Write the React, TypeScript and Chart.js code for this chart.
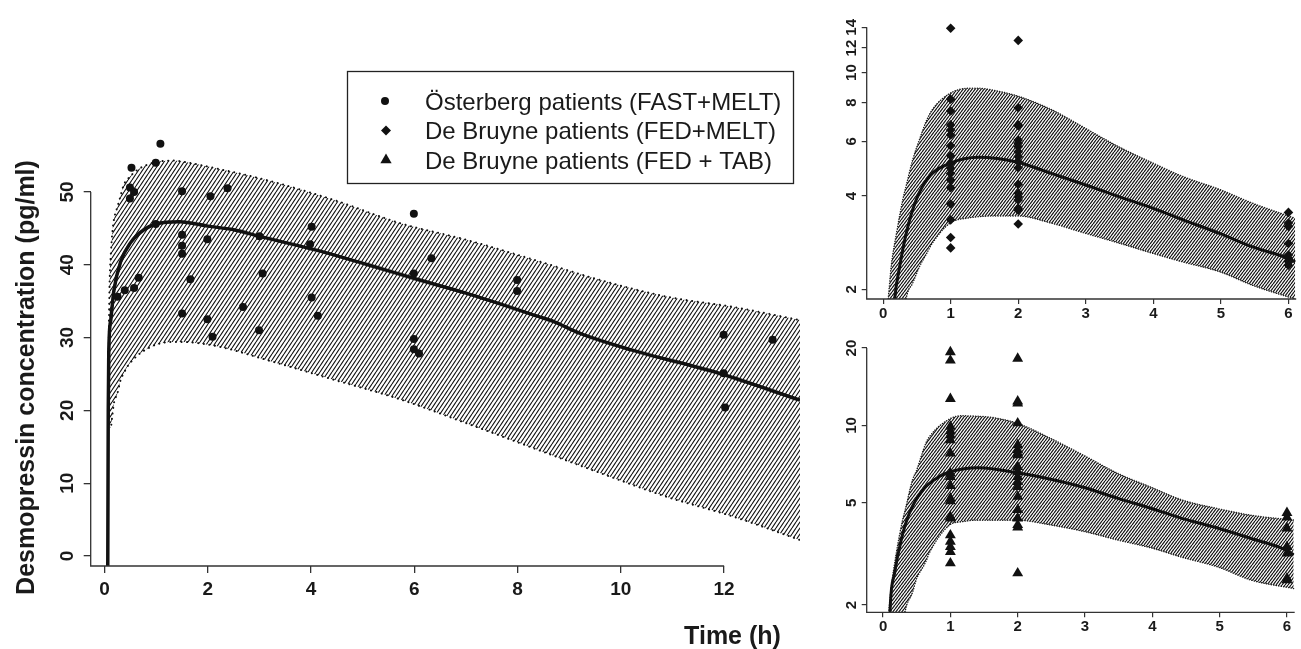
import React, { useEffect, useRef } from 'react';
import { Chart, registerables } from 'chart.js';

Chart.register(...registerables);

// ---------------- DATA ----------------
// Main panel (linear scale)
const mainXTicks = [0, 2, 4, 6, 8, 10, 12];
const mainYTicks = [0, 10, 20, 30, 40, 50];

const osterbergTime = [1.08, 0.99, 0.52, 0.49, 0.57, 0.49, 1.5, 2.05, 2.38, 0.99, 1.5, 1.5, 1.5, 1.99, 3.0, 4.01, 3.98, 5.99, 5.99, 0.66, 0.57, 0.39, 0.25, 1.66, 3.06, 1.5, 1.99, 2.09, 2.68, 2.99, 4.01, 4.13, 5.99, 5.99, 6.09, 6.33, 7.99, 7.99, 11.99, 12.94, 11.99, 12.02];
const osterbergConc = [56.6, 54.0, 53.3, 50.6, 50.0, 49.1, 50.1, 49.4, 50.5, 45.6, 44.1, 42.6, 41.5, 43.5, 43.9, 45.2, 42.8, 47.0, 38.8, 38.2, 36.8, 36.5, 35.6, 38.0, 38.8, 33.3, 32.5, 30.1, 34.2, 31.0, 35.5, 33.0, 29.8, 28.4, 27.8, 40.9, 37.9, 36.4, 30.4, 29.7, 25.1, 20.4];

const mainMedianTime = [0.06, 0.07, 0.08, 0.12, 0.18, 0.31, 0.5, 0.76, 1.0, 1.45, 2.0, 2.5, 3.0, 4.1, 5.1, 6.1, 7.0, 8.4, 8.7, 9.2, 10.2, 11.9, 13.47];
const mainMedianConc = [-3, 20, 28, 32.5, 36.5, 40.4, 43.0, 44.8, 45.6, 45.9, 45.3, 44.8, 43.9, 42.0, 40.0, 37.9, 36.1, 32.9, 32.2, 30.6, 28.3, 25.1, 21.4];

const mainBandTime = [0.065, 0.075, 0.085, 0.1, 0.12, 0.15, 0.18, 0.25, 0.31, 0.37, 0.44, 0.63, 0.89, 1.08, 1.34, 1.47, 2.18, 3.15, 4.44, 5.73, 7.02, 8.31, 9.6, 10.9, 12.18, 13.47];
const mainBandUpper = [17.7, 25, 33, 38.5, 41.5, 44.5, 46.2, 48.0, 49.5, 51.0, 51.7, 53.0, 53.9, 54.2, 54.3, 54.2, 53.2, 51.6, 48.9, 45.7, 43.4, 40.7, 37.9, 35.6, 34.2, 32.4];
const mainBandLower = [17.6, 17.6, 17.6, 17.6, 17.7, 19.4, 21.0, 22.4, 24.2, 25.1, 26.0, 27.5, 28.7, 29.2, 29.4, 29.4, 28.8, 26.9, 24.2, 21.5, 18.2, 14.8, 11.4, 8.1, 5.4, 2.2];

// Right panels (log scale)
const smallXTicks = [0, 1, 2, 3, 4, 5, 6];
const meltYTicks = [2, 4, 6, 8, 10, 12, 14];
const tabYTicks = [2, 5, 10, 20];

const meltT1 = [13.9, 8.2, 7.52, 6.78, 6.53, 6.29, 5.81, 5.39, 5.1, 4.91, 4.73, 4.5, 4.25, 3.77, 3.35, 2.94, 2.72];
const meltT2 = [12.7, 7.7, 6.78, 6.74, 6.06, 5.92, 5.77, 5.56, 5.36, 5.16, 4.93, 4.36, 4.08, 3.98, 3.88, 3.65, 3.6, 3.25];
const meltT6 = [3.54, 3.27, 3.19, 2.81, 2.58, 2.52, 2.46, 2.39];

const meltMedianTime = [0.15, 0.171, 0.245, 0.342, 0.489, 0.684, 0.991, 1.416, 1.99, 2.49, 3.0, 3.49, 4.0, 4.44, 4.98, 5.47, 5.99, 6.1];
const meltMedianConc = [1.6, 1.86, 2.37, 3.03, 3.88, 4.62, 5.1, 5.33, 5.14, 4.73, 4.34, 3.98, 3.65, 3.35, 3.03, 2.74, 2.52, 2.45];

const meltBandTime = [0.07, 0.12, 0.2, 0.29, 0.34, 0.44, 0.54, 0.64, 0.73, 0.99, 1.27, 1.42, 1.61, 1.99, 2.49, 3.0, 3.49, 4.0, 4.44, 4.98, 5.47, 6.1];
const meltBandUpper = [1.8, 2.37, 3.05, 3.88, 4.3, 5.25, 6.1, 6.98, 7.6, 8.57, 8.9, 8.9, 8.79, 8.4, 7.6, 6.6, 5.76, 5.1, 4.62, 4.2, 3.79, 3.39];
const meltBandLower = [0.9, 1.05, 1.25, 1.5, 1.86, 2.1, 2.37, 2.6, 2.82, 3.27, 3.4, 3.43, 3.45, 3.45, 3.27, 3.03, 2.82, 2.61, 2.45, 2.28, 2.06, 1.86];

const tabT1 = [19.3, 17.9, 12.7, 9.9, 9.5, 9.17, 8.77, 7.79, 6.51, 6.31, 5.82, 5.2, 5.08, 4.41, 4.35, 3.74, 3.53, 3.37, 3.22, 2.91];
const tabT2 = [18.2, 12.4, 12.2, 10.2, 8.39, 8.02, 7.79, 7.67, 6.9, 6.6, 6.31, 6.03, 5.77, 5.28, 4.69, 4.35, 4.1, 4.01, 2.66];
const tabT6 = [4.57, 4.39, 3.98, 3.37, 3.18, 2.54, 2.5];

const tabMedianTime = [0.1, 0.108, 0.171, 0.269, 0.39, 0.586, 0.83, 1.0, 1.416, 1.99, 2.49, 3.0, 3.49, 4.0, 4.44, 4.98, 5.47, 5.99, 6.1];
const tabMedianConc = [1.7, 2.0, 2.66, 3.58, 4.55, 5.59, 6.31, 6.6, 6.84, 6.54, 6.17, 5.72, 5.2, 4.74, 4.35, 3.98, 3.63, 3.27, 3.13];

const tabBandTime = [0.083, 0.122, 0.196, 0.29, 0.33, 0.44, 0.49, 0.635, 0.684, 0.99, 1.17, 1.42, 1.61, 1.99, 2.49, 3.0, 3.49, 4.0, 4.44, 4.98, 5.47, 6.1];
const tabBandUpper = [1.87, 2.35, 3.18, 4.28, 4.7, 6.17, 6.6, 8.52, 9.0, 10.6, 10.9, 10.85, 10.75, 10.2, 8.9, 7.6, 6.5, 5.72, 5.13, 4.74, 4.47, 4.28];
const tabBandLower = [1.0, 1.1, 1.3, 1.6, 1.9, 2.25, 2.5, 2.95, 3.18, 4.1, 4.22, 4.28, 4.28, 4.28, 4.1, 3.86, 3.58, 3.33, 3.07, 2.81, 2.5, 2.32];

const yTitle = 'Desmopressin concentration (pg/ml)';
const xTitle = 'Time (h)';
const legendLabels = ['Österberg patients (FAST+MELT)', 'De Bruyne patients (FED+MELT)', 'De Bruyne patients (FED + TAB)'];

// ---------------- STYLE ----------------
const FONT = '"Liberation Sans", Arial, Helvetica, sans-serif';
const INK = '#111111';
const TEXT = '#1a1a1a';
const AXIS = '#333333';

const pairs = (xs: number[], ys: number[]) => xs.map((x, i) => ({ x, y: ys[i] }));
const column = (t: number, ys: number[]) => ys.map((y) => ({ x: t, y }));

function makeHatch(canvas: HTMLCanvasElement, w: number, h: number, lw: number, color: string) {
  const tile = document.createElement('canvas');
  tile.width = w;
  tile.height = h;
  const g = tile.getContext('2d')!;
  g.strokeStyle = color;
  g.lineWidth = lw;
  g.beginPath();
  for (let k = -1; k <= 1; k++) {
    g.moveTo(k * w, h);
    g.lineTo((k + 1) * w, 0);
  }
  g.stroke();
  return canvas.getContext('2d')!.createPattern(tile, 'repeat')!;
}

function axisLinesPlugin(yTopValue: number, xEndValue: number | null) {
  return {
    id: 'axisLines',
    afterDraw(chart: any) {
      const { ctx, chartArea, scales } = chart;
      ctx.save();
      ctx.strokeStyle = AXIS;
      ctx.lineWidth = 1.3;
      ctx.beginPath();
      ctx.moveTo(chartArea.left, scales.y.getPixelForValue(yTopValue));
      ctx.lineTo(chartArea.left, chartArea.bottom);
      ctx.lineTo(xEndValue == null ? chartArea.right : scales.x.getPixelForValue(xEndValue), chartArea.bottom);
      ctx.stroke();
      ctx.restore();
    },
  };
}

const mainDecor = {
  id: 'mainDecor',
  afterDraw(chart: any) {
    const { ctx } = chart;
    ctx.save();
    ctx.fillStyle = TEXT;
    ctx.font = `bold 25px ${FONT}`;
    ctx.textAlign = 'center';
    ctx.textBaseline = 'middle';
    ctx.save();
    ctx.translate(27, 377.5);
    ctx.rotate(-Math.PI / 2);
    ctx.fillText(yTitle, 0, 0);
    ctx.restore();
    ctx.fillText(xTitle, 732.5, 637);

    // legend box
    ctx.strokeStyle = '#222';
    ctx.lineWidth = 1.3;
    ctx.fillStyle = '#ffffff';
    ctx.fillRect(347.5, 71.5, 446, 112);
    ctx.strokeRect(347.5, 71.5, 446, 112);
    const rows = [101, 130.5, 160];
    ctx.fillStyle = INK;
    // circle
    ctx.beginPath();
    ctx.arc(385, rows[0], 4, 0, Math.PI * 2);
    ctx.fill();
    // diamond
    ctx.beginPath();
    ctx.moveTo(386, rows[1] - 5);
    ctx.lineTo(391, rows[1]);
    ctx.lineTo(386, rows[1] + 5);
    ctx.lineTo(381, rows[1]);
    ctx.closePath();
    ctx.fill();
    // triangle
    const r = 6.5;
    ctx.beginPath();
    ctx.moveTo(386, rows[2] - r);
    ctx.lineTo(386 + r * 0.866, rows[2] + r / 2);
    ctx.lineTo(386 - r * 0.866, rows[2] + r / 2);
    ctx.closePath();
    ctx.fill();

    ctx.fillStyle = TEXT;
    ctx.font = `24px ${FONT}`;
    ctx.textAlign = 'left';
    ctx.textBaseline = 'alphabetic';
    legendLabels.forEach((t, i) => ctx.fillText(t, 425, rows[i] + 8.6));
    ctx.restore();
  },
};

function MainChart() {
  const ref = useRef<HTMLCanvasElement>(null);
  useEffect(() => {
    const canvas = ref.current!;
    const hatch = makeHatch(canvas, 4, 6, 1.1, INK);
    const chart = new Chart(canvas, {
      type: 'line',
      data: {
        datasets: [
          {
            label: legendLabels[0],
            data: pairs(osterbergTime, osterbergConc),
            showLine: false,
            pointStyle: 'circle',
            pointRadius: 4,
            pointBackgroundColor: INK,
            pointBorderWidth: 0,
          },
          {
            label: 'median',
            data: pairs(mainMedianTime, mainMedianConc),
            borderColor: INK,
            borderWidth: 3.5,
            pointRadius: 0,
            cubicInterpolationMode: 'monotone',
            fill: false,
          },
          {
            label: 'lower',
            data: pairs(mainBandTime, mainBandLower),
            borderColor: INK,
            borderWidth: 2,
            borderDash: [0.1, 5.5],
            borderCapStyle: 'round',
            pointRadius: 0,
            cubicInterpolationMode: 'monotone',
            fill: false,
          },
          {
            label: 'upper',
            data: pairs(mainBandTime, mainBandUpper),
            borderColor: INK,
            borderWidth: 2,
            borderDash: [0.1, 5.5],
            borderCapStyle: 'round',
            pointRadius: 0,
            cubicInterpolationMode: 'monotone',
            fill: '-1',
            backgroundColor: hatch,
          },
        ],
      } as any,
      options: {
        responsive: false,
        animation: false,
        events: [],
        layout: { padding: { left: 0, top: 130, right: 30, bottom: 0 } },
        plugins: { legend: { display: false }, tooltip: { enabled: false } },
        scales: {
          x: {
            type: 'linear',
            min: -0.27,
            max: 13.47,
            bounds: 'data',
            afterBuildTicks: (s: any) => { s.ticks = mainXTicks.map((v) => ({ value: v })); },
            afterFit: (s: any) => { s.height = 83; },
            ticks: { font: { family: FONT, size: 19, weight: 'bold' }, color: TEXT, padding: 5.6, autoSkip: false, maxRotation: 0 },
            grid: { drawOnChartArea: false, drawTicks: true, tickLength: 7, color: AXIS, lineWidth: 1.3 },
            border: { display: false },
          },
          y: {
            type: 'linear',
            min: -1.37,
            max: 58.5,
            bounds: 'data',
            afterBuildTicks: (s: any) => { s.ticks = mainYTicks.map((v) => ({ value: v })); },
            afterFit: (s: any) => { s.width = 90.7; },
            ticks: { font: { family: FONT, size: 19, weight: 'bold' }, color: TEXT, padding: 5.1, autoSkip: false, minRotation: 90, maxRotation: 90, crossAlign: 'center' },
            grid: { drawOnChartArea: false, drawTicks: true, tickLength: 7, color: AXIS, lineWidth: 1.3 },
            border: { display: false },
          },
        },
      } as any,
      plugins: [axisLinesPlugin(mainYTicks[mainYTicks.length - 1], mainXTicks[mainXTicks.length - 1]), mainDecor],
    });
    return () => chart.destroy();
  }, []);
  return <canvas ref={ref} width={830} height={649} style={{ position: 'absolute', left: 0, top: 0 }} />;
}

type SmallProps = {
  left: number;
  top: number;
  width: number;
  height: number;
  padTop: number;
  xAxisH: number;
  yMin: number;
  yMax: number;
  yTicks: number[];
  points: { x: number; y: number }[];
  pointStyle: string;
  pointRadius: number;
  medT: number[];
  medV: number[];
  bandT: number[];
  bandLo: number[];
  bandHi: number[];
};

function SmallChart(p: SmallProps) {
  const ref = useRef<HTMLCanvasElement>(null);
  useEffect(() => {
    const canvas = ref.current!;
    const hatch = makeHatch(canvas, 3, 4, 1.2, INK);
    const chart = new Chart(canvas, {
      type: 'line',
      data: {
        datasets: [
          {
            label: 'obs',
            data: p.points,
            showLine: false,
            pointStyle: p.pointStyle,
            pointRadius: p.pointRadius,
            pointBackgroundColor: INK,
            pointBorderWidth: 0,
          },
          {
            label: 'median',
            data: pairs(p.medT, p.medV),
            borderColor: INK,
            borderWidth: 3,
            pointRadius: 0,
            cubicInterpolationMode: 'monotone',
            fill: false,
          },
          {
            label: 'lower',
            data: pairs(p.bandT, p.bandLo),
            borderColor: '#222',
            borderWidth: 1.5,
            borderDash: [0.1, 2.4],
            borderCapStyle: 'round',
            pointRadius: 0,
            cubicInterpolationMode: 'monotone',
            fill: false,
          },
          {
            label: 'upper',
            data: pairs(p.bandT, p.bandHi),
            borderColor: '#222',
            borderWidth: 1.5,
            borderDash: [0.1, 2.4],
            borderCapStyle: 'round',
            pointRadius: 0,
            cubicInterpolationMode: 'monotone',
            fill: '-1',
            backgroundColor: hatch,
          },
        ],
      } as any,
      options: {
        responsive: false,
        animation: false,
        events: [],
        layout: { padding: { left: 0, top: p.padTop, right: 0, bottom: 0 } },
        plugins: { legend: { display: false }, tooltip: { enabled: false } },
        scales: {
          x: {
            type: 'linear',
            min: -0.243,
            max: 6.115,
            bounds: 'data',
            afterBuildTicks: (s: any) => { s.ticks = smallXTicks.map((v) => ({ value: v })); },
            afterFit: (s: any) => { s.height = p.xAxisH; },
            ticks: { font: { family: FONT, size: 15, weight: 'bold' }, color: TEXT, padding: 0.5, autoSkip: false, maxRotation: 0 },
            grid: { drawOnChartArea: false, drawTicks: true, tickLength: 5, color: AXIS, lineWidth: 1.2 },
            border: { display: false },
          },
          y: {
            type: 'logarithmic',
            min: p.yMin,
            max: p.yMax,
            afterBuildTicks: (s: any) => { s.ticks = p.yTicks.map((v) => ({ value: v })); },
            afterFit: (s: any) => { s.width = 46.7; },
            ticks: {
              font: { family: FONT, size: 15, weight: 'bold' },
              color: TEXT,
              padding: 1.8,
              autoSkip: false,
              minRotation: 90,
              maxRotation: 90,
              crossAlign: 'center',
              callback: (v: any) => String(v),
            },
            grid: { drawOnChartArea: false, drawTicks: true, tickLength: 5, color: AXIS, lineWidth: 1.2 },
            border: { display: false },
          },
        },
      } as any,
      plugins: [axisLinesPlugin(p.yTicks[p.yTicks.length - 1], null)],
    });
    return () => chart.destroy();
  }, []);
  return (
    <canvas
      ref={ref}
      width={p.width}
      height={p.height}
      style={{ position: 'absolute', left: p.left, top: p.top }}
    />
  );
}

export default function App() {
  const meltPoints = [...column(1, meltT1), ...column(2, meltT2), ...column(6, meltT6)];
  const tabPoints = [...column(1, tabT1), ...column(2, tabT2), ...column(6, tabT6)];
  return (
    <div style={{ position: 'absolute', left: 0, top: 0, width: 1301, height: 649, background: '#ffffff', overflow: 'hidden' }}>
      <MainChart />
      <SmallChart
        left={820}
        top={0}
        width={481}
        height={325}
        padTop={18}
        xAxisH={26}
        yMin={1.861}
        yMax={15.0}
        yTicks={meltYTicks}
        points={meltPoints}
        pointStyle="rectRot"
        pointRadius={4.8}
        medT={meltMedianTime}
        medV={meltMedianConc}
        bandT={meltBandTime}
        bandLo={meltBandLower}
        bandHi={meltBandUpper}
      />
      <SmallChart
        left={820}
        top={325}
        width={481}
        height={324}
        padTop={15}
        xAxisH={36.7}
        yMin={1.874}
        yMax={21.5}
        yTicks={tabYTicks}
        points={tabPoints}
        pointStyle="triangle"
        pointRadius={6.3}
        medT={tabMedianTime}
        medV={tabMedianConc}
        bandT={tabBandTime}
        bandLo={tabBandLower}
        bandHi={tabBandUpper}
      />
    </div>
  );
}
